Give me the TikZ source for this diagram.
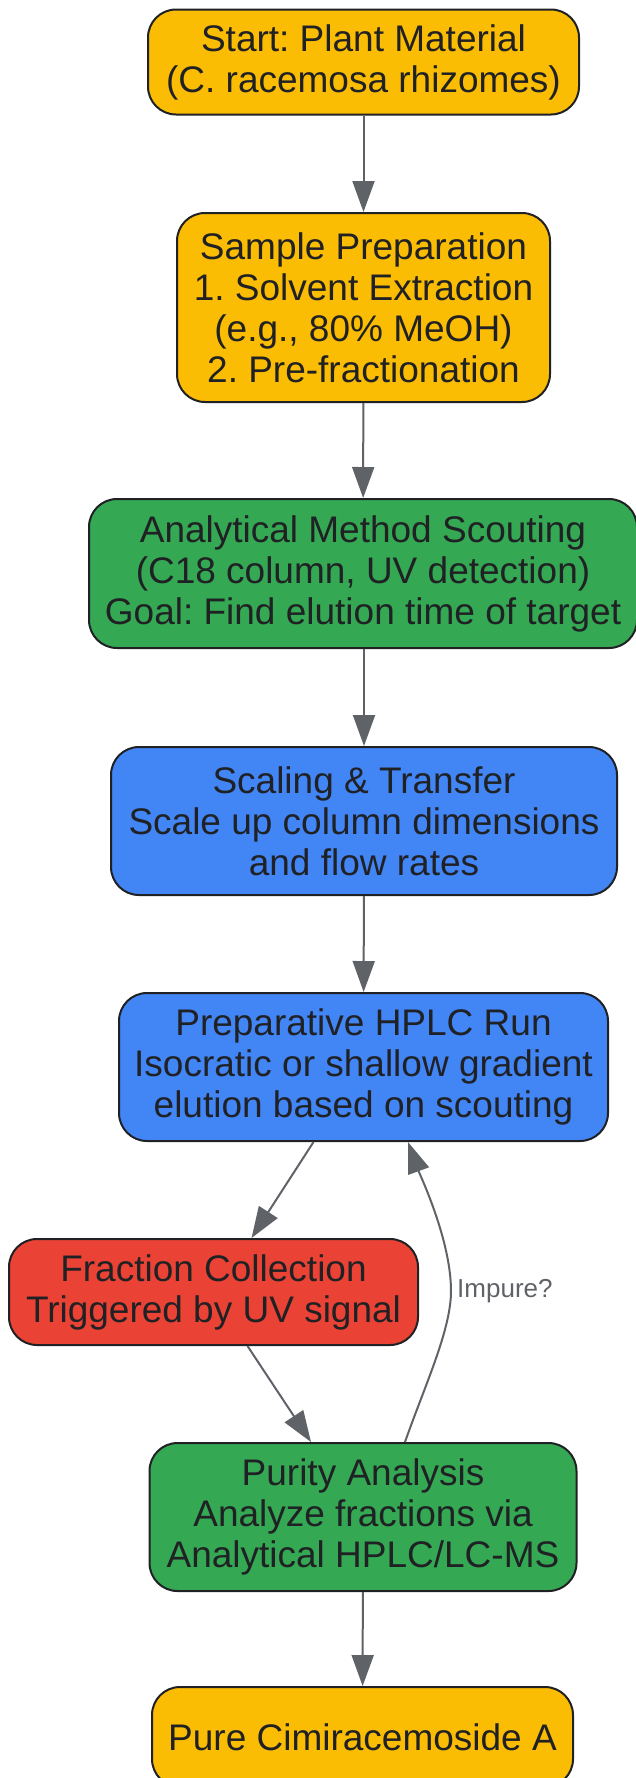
\documentclass[tikz,border=0pt]{standalone}
\usepackage{fontspec}
\setmainfont{Liberation Sans}
\usetikzlibrary{arrows.meta}
\definecolor{cyel}{HTML}{FBBC04}
\definecolor{cgrn}{HTML}{34A853}
\definecolor{cblu}{HTML}{4285F4}
\definecolor{cred}{HTML}{EA4335}
\definecolor{ctxt}{HTML}{202124}
\definecolor{carr}{HTML}{5F6368}
\tikzset{
  box/.style={draw=ctxt, line width=2pt, rounded corners=28pt, inner sep=0pt,
    align=center, text=ctxt, font=\fontsize{37}{41}\selectfont},
  conn/.style={draw=carr, line width=2pt, -{Triangle[length=31pt,width=22pt]}},
  lbl/.style={text=carr, font=\fontsize{26}{30}\selectfont, anchor=west, inner sep=0pt}
}
\begin{document}
\frenchspacing
\begin{tikzpicture}[x=1pt,y=-1pt]
\useasboundingbox (0,0) rectangle (635,1778);
\node[box, fill=cyel, minimum width=431pt, minimum height=105pt] (start) at (363.5,62)
  {Start: Plant Material\\(C. racemosa rhizomes)};
\node[box, fill=cyel, minimum width=373pt, minimum height=189pt] (sample) at (363.5,307.5)
  {Sample Preparation\\1. Solvent Extraction\\(e.g., 80\% MeOH)\\2. Pre-fractionation};
\node[box, fill=cgrn, minimum width=548pt, minimum height=149pt] (anal) at (363,573.5)
  {Analytical Method Scouting\\(C18 column, UV detection)\\Goal: Find elution time of target};
\node[box, fill=cblu, minimum width=506pt, minimum height=148pt] (scal) at (364,821)
  {Scaling \& Transfer\\Scale up column dimensions\\and flow rates};
\node[box, fill=cblu, minimum width=489pt, minimum height=148pt] (prep) at (363.5,1067)
  {Preparative HPLC Run\\Isocratic or shallow gradient\\elution based on scouting};
\node[box, fill=cred, minimum width=409pt, minimum height=106pt] (frac) at (213.5,1292)
  {Fraction Collection\\Triggered by UV signal};
\node[box, fill=cgrn, minimum width=427pt, minimum height=148pt] (pur) at (363,1517)
  {Purity Analysis\\Analyze fractions via\\Analytical HPLC/LC-MS};
\node[box, fill=cyel, minimum width=421pt, minimum height=100pt] (pure) at (362.5,1737)
  {Pure Cimiracemoside A};

\draw[conn] (start) -- (sample);
\draw[conn] (sample) -- (anal);
\draw[conn] (anal.south -| scal.north) -- (scal);
\draw[conn] (scal) -- (prep);
\draw[conn] ([xshift=-50pt]prep.south) -- ([xshift=38pt]frac.north);
\draw[conn] ([xshift=34pt]frac.south) -- ([xshift=-52pt]pur.north);
\coordinate (mid) at (451,1291);
\draw[conn] ([xshift=42pt]pur.north) .. controls (425,1385) and (451,1330) .. (mid)
  .. controls (451,1240) and (420,1175) .. ([xshift=44.5pt]prep.south);
\node[lbl] (imp) at (457,1291) {Impure?};
\draw[conn] (pur) -- (pure);
\end{tikzpicture}
\end{document}
